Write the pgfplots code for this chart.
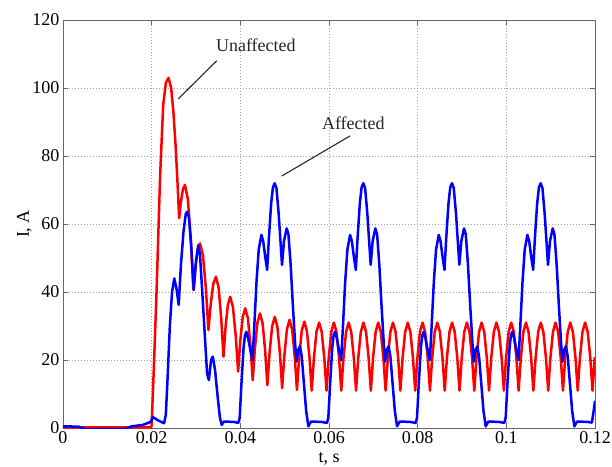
\documentclass[border=0pt]{standalone}
\usepackage{pgfplots}
\pgfplotsset{compat=1.18}
\usepackage{fontspec}
\setmainfont{Liberation Serif}
\begin{document}
\begin{tikzpicture}[font=\fontsize{18}{21.6}\selectfont]
\begin{axis}[name=ax, scale only axis, width=532pt, height=408pt,
  xmin=0, xmax=0.12, ymin=0, ymax=120,
  xtick={0,0.02,0.04,0.06,0.08,0.1,0.12}, ytick={0,20,40,60,80,100,120},
  scaled x ticks=false,
  xticklabel style={/pgf/number format/fixed, /pgf/number format/precision=2},
  /pgf/number format/assume math mode=true,
  grid=major, grid style={gray!75, line width=0.6pt, dash pattern=on 1pt off 2pt},
  axis line style={black!60, line width=0.8pt},
  tick style={black!60, line width=0.6pt},
  tick align=inside, major tick length=5pt,
  xlabel={t, s}, ylabel={I, A},
  xlabel style={yshift=-2pt},
  ylabel style={yshift=-6pt},
  ]
\addplot[red, line width=2.5pt, line join=round] coordinates {
(0,0.2) (0.0199,0.2)
(0.0200,1) (0.0205,18) (0.0211,40) (0.0219,74) (0.0226,95) (0.0232,101.5) (0.0238,103) (0.0244,100) (0.0249,93) (0.0254,83) (0.0258,73) (0.0262,61.7)
(0.02659,66.4) (0.02705,70.2) (0.0275,71.5) (0.02817,67.3) (0.02883,55.4) (0.0294,40.6)
(0.02985,47.1) (0.03038,52.4) (0.0309,54.3) (0.03157,50.8) (0.03223,41.0) (0.0328,28.8)
(0.03331,36.3) (0.0339,42.4) (0.0345,44.5) (0.0351,41.3) (0.03569,32.2) (0.0362,21)
(0.03665,29.4) (0.03718,36.2) (0.0377,38.6) (0.03833,35.6) (0.03896,27.1) (0.0395,16.6)
(0.03998,25.5) (0.04054,32.65) (0.0411,35.2) (0.0417,32.3) (0.04229,24.2) (0.0428,14.1)
(0.04329,23.5) (0.04386,31.0) (0.04443,33.7) (0.04502,30.8) (0.0456,22.7) (0.0461,12.6)
(0.0466,22.2) (0.04718,29.95) (0.04777,32.7) (0.04835,29.8) (0.04894,21.7) (0.04943,11.7)
(0.04993,21.3) (0.05051,29.05) (0.0511,31.8) (0.05168,28.98) (0.05227,21.05) (0.05277,11.2)
(0.05327,20.8) (0.05385,28.55) (0.05443,31.3) (0.05502,28.5) (0.0556,20.7) (0.0561,11)
(0.0566,20.6) (0.05718,28.3)
(0.05777,31) (0.05835,28.3) (0.05894,20.6) (0.05944,11) (0.05994,20.6) (0.06052,28.3)
(0.06110,31) (0.06168,28.3) (0.06227,20.6) (0.06277,11) (0.06327,20.6) (0.06385,28.3)
(0.06443,31) (0.06501,28.3) (0.06560,20.6) (0.06610,11) (0.06660,20.6) (0.06718,28.3)
(0.06777,31) (0.06835,28.3) (0.06894,20.6) (0.06944,11) (0.06994,20.6) (0.07052,28.3)
(0.07110,31) (0.07168,28.3) (0.07227,20.6) (0.07277,11) (0.07327,20.6) (0.07385,28.3)
(0.07443,31) (0.07501,28.3) (0.07560,20.6) (0.07610,11) (0.07660,20.6) (0.07718,28.3)
(0.07777,31) (0.07835,28.3) (0.07894,20.6) (0.07944,11) (0.07994,20.6) (0.08052,28.3)
(0.08110,31) (0.08168,28.3) (0.08227,20.6) (0.08277,11) (0.08327,20.6) (0.08385,28.3)
(0.08443,31) (0.08501,28.3) (0.08560,20.6) (0.08610,11) (0.08660,20.6) (0.08718,28.3)
(0.08777,31) (0.08835,28.3) (0.08894,20.6) (0.08944,11) (0.08994,20.6) (0.09052,28.3)
(0.09110,31) (0.09168,28.3) (0.09227,20.6) (0.09277,11) (0.09327,20.6) (0.09385,28.3)
(0.09443,31) (0.09501,28.3) (0.09560,20.6) (0.09610,11) (0.09660,20.6) (0.09718,28.3)
(0.09777,31) (0.09835,28.3) (0.09894,20.6) (0.09944,11) (0.09994,20.6) (0.10052,28.3)
(0.10110,31) (0.10168,28.3) (0.10227,20.6) (0.10277,11) (0.10327,20.6) (0.10385,28.3)
(0.10443,31) (0.10501,28.3) (0.10560,20.6) (0.10610,11) (0.10660,20.6) (0.10718,28.3)
(0.10777,31) (0.10835,28.3) (0.10894,20.6) (0.10944,11) (0.10994,20.6) (0.11052,28.3)
(0.11110,31) (0.11168,28.3) (0.11227,20.6) (0.11277,11) (0.11327,20.6) (0.11385,28.3)
(0.11443,31) (0.11501,28.3) (0.11560,20.6) (0.11610,11) (0.11660,20.6) (0.11718,28.3)
(0.11777,31) (0.11835,28.3) (0.11894,20.6) (0.11944,11) (0.11994,20.6) (0.12,20.8)
};
\addplot[blue, line width=2.5pt, line join=round] coordinates {
(0,0.5) (0.0035,0.4) (0.005,-0.3) (0.014,-0.3) (0.0155,0.5) (0.018,0.9) (0.0198,1.8) (0.0203,3.2) (0.0215,2.2) (0.0228,1.4)
(0.0232,4) (0.0236,15) (0.0241,30) (0.0246,40) (0.0251,44) (0.0256,41) (0.0261,36.2) (0.0266,48) (0.0272,58) (0.0277,63) (0.0280,63.6) (0.0284,62) (0.0289,54) (0.0295,40.6) (0.0300,49) (0.0305,53.8) (0.0309,51) (0.0315,38) (0.0320,27) (0.0325,16) (0.0329,14.1) (0.0334,20) (0.0338,21) (0.0343,17) (0.0349,9) (0.0354,3) (0.0358,0.9) (0.0363,1.9) (0.0385,1.8)
(0.03955,1.5) (0.03985,3) (0.04025,13) (0.04075,24) (0.04105,27.3) (0.04135,28.3) (0.04175,26.5) (0.04225,23) (0.04275,20) (0.04315,30) (0.04365,43) (0.04415,52.5) (0.04475,56.8) (0.04515,55) (0.04565,50) (0.04605,46.5) (0.04645,56) (0.04695,66) (0.04735,70.8) (0.04775,72) (0.04815,70.5) (0.04865,63) (0.0494,48) (0.04985,55) (0.05045,58.7) (0.05085,57) (0.05135,48) (0.05185,36) (0.05235,25) (0.05265,19.5) (0.05305,23) (0.05345,24) (0.05385,21) (0.05435,13) (0.05485,5) (0.05535,0.5) (0.05595,1.9) (0.05825,1.8)
(0.05955,1.5) (0.05985,3) (0.06025,13) (0.06075,24) (0.06105,27.3) (0.06135,28.3) (0.06175,26.5) (0.06225,23) (0.06275,20) (0.06315,30) (0.06365,43) (0.06415,52.5) (0.06475,56.8) (0.06515,55) (0.06565,50) (0.06605,46.5) (0.06645,56) (0.06695,66) (0.06735,70.8) (0.06775,72) (0.06815,70.5) (0.06865,63) (0.0694,48) (0.06985,55) (0.07045,58.7) (0.07085,57) (0.07135,48) (0.07185,36) (0.07235,25) (0.07265,19.5) (0.07305,23) (0.07345,24) (0.07385,21) (0.07435,13) (0.07485,5) (0.07535,0.5) (0.07595,1.9) (0.07825,1.8)
(0.07955,1.5) (0.07985,3) (0.08025,13) (0.08075,24) (0.08105,27.3) (0.08135,28.3) (0.08175,26.5) (0.08225,23) (0.08275,20) (0.08315,30) (0.08365,43) (0.08415,52.5) (0.08475,56.8) (0.08515,55) (0.08565,50) (0.08605,46.5) (0.08645,56) (0.08695,66) (0.08735,70.8) (0.08775,72) (0.08815,70.5) (0.08865,63) (0.0894,48) (0.08985,55) (0.09045,58.7) (0.09085,57) (0.09135,48) (0.09185,36) (0.09235,25) (0.09265,19.5) (0.09305,23) (0.09345,24) (0.09385,21) (0.09435,13) (0.09485,5) (0.09535,0.5) (0.09595,1.9) (0.09825,1.8)
(0.09955,1.5) (0.09985,3) (0.10025,13) (0.10075,24) (0.10105,27.3) (0.10135,28.3) (0.10175,26.5) (0.10225,23) (0.10275,20) (0.10315,30) (0.10365,43) (0.10415,52.5) (0.10475,56.8) (0.10515,55) (0.10565,50) (0.10605,46.5) (0.10645,56) (0.10695,66) (0.10735,70.8) (0.10775,72) (0.10815,70.5) (0.10865,63) (0.1094,48) (0.10985,55) (0.11045,58.7) (0.11085,57) (0.11135,48) (0.11185,36) (0.11235,25) (0.11265,19.5) (0.11305,23) (0.11345,24) (0.11385,21) (0.11435,13) (0.11485,5) (0.11535,0.5) (0.11595,1.9) (0.11825,1.8) (0.1193,1.6) (0.1197,5) (0.12,8)
};
\draw[black!85, line width=1.1pt] (axis cs:0.03467,108) -- (axis cs:0.0260,96.8);
\node[black!85] at (axis cs:0.0435,112.6) {Unaffected};
\draw[black!85, line width=1.1pt] (axis cs:0.06474,85.9) -- (axis cs:0.04933,74.1);
\node[black!85] at (axis cs:0.0655,89.6) {Affected};
\end{axis}
\pgfresetboundingbox
\useasboundingbox ([xshift=-63pt,yshift=-38pt]ax.south west) rectangle ([xshift=17pt,yshift=20pt]ax.north east);
\end{tikzpicture}
\end{document}
